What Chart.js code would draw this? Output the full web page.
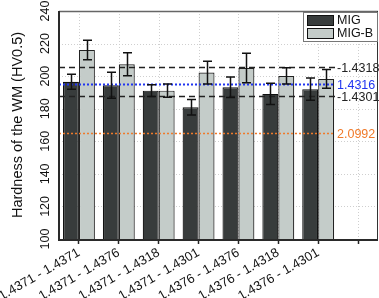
<!DOCTYPE html>
<html>
<head>
<meta charset="utf-8">
<script src="https://cdn.jsdelivr.net/npm/chart.js@4/dist/chart.umd.min.js"></script>
<style>
html,body{margin:0;padding:0;background:#fff;}
#c{display:block;}
</style>
</head>
<body>
<canvas id="c" width="379" height="298"></canvas>
<script>
// ---- data ----
const categories = ['1.4371 - 1.4371','1.4371 - 1.4376','1.4371 - 1.4318','1.4371 - 1.4301','1.4376 - 1.4376','1.4376 - 1.4318','1.4376 - 1.4301',''];
const migValues  = [196.5, 194.4, 191.1, 180.9, 193.2, 189.1, 192.0, null];
const migErrors  = [4.6, 8.0, 3.6, 4.7, 6.3, 6.5, 6.8, null];
const migbValues = [216.1, 207.3, 191.1, 202.2, 205.0, 200.1, 198.3, null];
const migbErrors = [6.0, 7.1, 4.0, 7.0, 9.0, 5.0, 5.8, null];
const seriesNames = ['MIG', 'MIG-B'];
const refValues = [205.6, 195.2, 187.6, 165.1];
const refLabels = ['-1.4318', '1.4316', '-1.4301', '2.0992'];
const yTicks = [100, 120, 140, 160, 180, 200, 220, 240];
const yTitle = 'Hardness of the WM (HV0.5)';

const FONT = "'Liberation Sans', Arial, sans-serif";
const DARK = '#383c3c';
const LIGHT = '#c4ccc9';
const errors = [migErrors, migbErrors];
const refStyles = [
  {color:'#222222', dash:[6,4], width:1.5},
  {color:'#2035f0', dash:[2,2], width:2},
  {color:'#222222', dash:[6,4], width:1.5},
  {color:'#f07a2a', dash:[2,2], width:1.5}
];

const gridPlugin = {
  id: 'dottedGrid',
  beforeDatasetsDraw(chart) {
    const ctx = chart.ctx, a = chart.chartArea, xs = chart.scales.x, ys = chart.scales.y;
    ctx.save();
    ctx.strokeStyle = '#cfcfcf';
    ctx.lineWidth = 1;
    ctx.setLineDash([1, 2]);
    ys.ticks.forEach(t => {
      const y = Math.round(ys.getPixelForValue(t.value)) + 0.5;
      ctx.beginPath(); ctx.moveTo(a.left, y); ctx.lineTo(a.right, y); ctx.stroke();
    });
    xs.ticks.forEach((t, i) => {
      const x = Math.round(xs.getPixelForTick(i)) + 0.5;
      ctx.beginPath(); ctx.moveTo(x, a.top); ctx.lineTo(x, a.bottom); ctx.stroke();
    });
    ctx.restore();
  }
};

const refLinesPlugin = {
  id: 'refLines',
  afterDatasetsDraw(chart) {
    const ctx = chart.ctx, ys = chart.scales.y, area = chart.chartArea;
    ctx.save();
    refValues.forEach((v, i) => {
      const st = refStyles[i];
      const y = Math.round(ys.getPixelForValue(v)) + 0.5;
      ctx.beginPath();
      ctx.setLineDash(st.dash);
      ctx.lineWidth = st.width;
      ctx.strokeStyle = st.color;
      ctx.moveTo(area.left, y);
      ctx.lineTo(area.right - 43, y);
      ctx.stroke();
      ctx.setLineDash([]);
      ctx.fillStyle = st.color;
      ctx.font = '12.5px ' + FONT;
      ctx.textAlign = 'left';
      ctx.textBaseline = 'middle';
      ctx.fillText(refLabels[i], area.right - 41, y + 1);
    });
    ctx.restore();
  }
};

const errorBarsPlugin = {
  id: 'errorBars',
  afterDatasetsDraw(chart) {
    const ctx = chart.ctx, ys = chart.scales.y;
    ctx.save();
    ctx.strokeStyle = '#111';
    ctx.lineWidth = 1.5;
    chart.data.datasets.forEach((ds, i) => {
      const meta = chart.getDatasetMeta(i);
      meta.data.forEach((bar, j) => {
        const v = ds.data[j], e = errors[i][j];
        if (v == null || e == null) return;
        const x = Math.round(bar.x) + 0.5;
        const yt = ys.getPixelForValue(v + e), yb = ys.getPixelForValue(v - e);
        ctx.beginPath();
        ctx.moveTo(x, yt); ctx.lineTo(x, yb);
        ctx.moveTo(x - 4.5, yt); ctx.lineTo(x + 4.5, yt);
        ctx.moveTo(x - 4.5, yb); ctx.lineTo(x + 4.5, yb);
        ctx.stroke();
      });
    });
    ctx.restore();
  }
};

const framePlugin = {
  id: 'frame',
  afterDraw(chart) {
    const ctx = chart.ctx, a = chart.chartArea;
    ctx.save();
    ctx.strokeStyle = '#666';
    ctx.lineWidth = 1.5;
    ctx.beginPath(); ctx.moveTo(a.left, a.top + 0.5); ctx.lineTo(a.right, a.top + 0.5); ctx.stroke();
    ctx.strokeStyle = '#333';
    ctx.lineWidth = 1;
    ctx.beginPath(); ctx.moveTo(a.right - 0.5, a.top); ctx.lineTo(a.right - 0.5, a.bottom); ctx.stroke();
    ctx.strokeStyle = '#2a2a2a';
    ctx.lineWidth = 2;
    ctx.beginPath(); ctx.moveTo(a.left, a.top); ctx.lineTo(a.left, a.bottom + 1); ctx.lineTo(a.right, a.bottom + 1); ctx.stroke();
    // legend
    const lx = a.right - 75, ly = a.top + 1, lw = 74, lh = 29;
    ctx.fillStyle = '#fff';
    ctx.fillRect(lx, ly, lw, lh);
    ctx.strokeStyle = '#777';
    ctx.lineWidth = 1;
    ctx.strokeRect(lx + 0.5, ly + 0.5, lw, lh);
    const sw = [[DARK, seriesNames[0], ly + 3], [LIGHT, seriesNames[1], ly + 16]];
    sw.forEach(([col, name, sy]) => {
      ctx.fillStyle = col;
      ctx.fillRect(lx + 4, sy, 27, 11);
      ctx.strokeStyle = '#111';
      ctx.strokeRect(lx + 4.5, sy + 0.5, 26, 10);
      ctx.fillStyle = '#111';
      ctx.font = '12.5px ' + FONT;
      ctx.textAlign = 'left';
      ctx.textBaseline = 'middle';
      ctx.fillText(name, lx + 34, sy + 6);
    });
    ctx.restore();
  }
};

new Chart(document.getElementById('c'), {
  type: 'bar',
  data: {
    labels: categories,
    datasets: [
      {label: seriesNames[0], data: migValues, backgroundColor: DARK, borderColor: '#111', borderWidth: 1.2, categoryPercentage: 0.8, barPercentage: 1.0},
      {label: seriesNames[1], data: migbValues, backgroundColor: LIGHT, borderColor: '#222', borderWidth: 1.2, categoryPercentage: 0.8, barPercentage: 1.0}
    ]
  },
  options: {
    responsive: false,
    animation: false,
    devicePixelRatio: 1,
    layout: {padding: {top: 11, right: 1, left: 0, bottom: 0}},
    plugins: {legend: {display: false}, tooltip: {enabled: false}},
    scales: {
      x: {
        grid: {offset: false, drawOnChartArea: false, drawTicks: true, tickLength: 5, tickColor: '#222', tickWidth: 1.5},
        border: {display: false},
        ticks: {minRotation: 30, maxRotation: 30, autoSkip: false, padding: 1, color: '#111', font: {family: FONT, size: 13}},
        afterFit(s) { s.height = 59; s.paddingLeft = 0; s.paddingRight = 0; }
      },
      y: {
        min: 100, max: 240,
        afterBuildTicks(s) { s.ticks = yTicks.map(v => ({value: v})); },
        grid: {drawOnChartArea: false, drawTicks: false},
        border: {display: false},
        ticks: {minRotation: 90, maxRotation: 90, crossAlign: 'center', padding: 3, color: '#111', font: {family: FONT, size: 12.5}},
        title: {display: true, text: yTitle, color: '#111', font: {family: FONT, size: 14.5}, padding: {top: 9, bottom: 0}},
        afterFit(s) { s.width = 59; s.paddingTop = 0; s.paddingBottom = 0; }
      }
    }
  },
  plugins: [gridPlugin, refLinesPlugin, errorBarsPlugin, framePlugin]
});
</script>
</body>
</html>
